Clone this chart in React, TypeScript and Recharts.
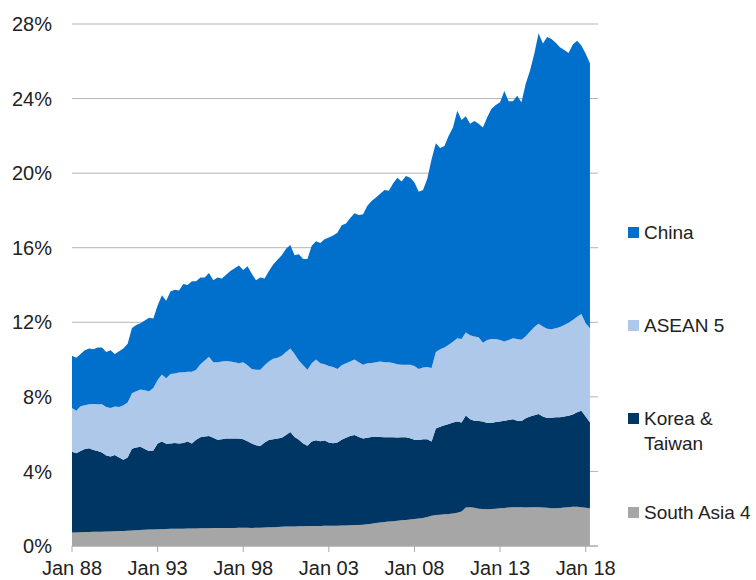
import React from 'react';
import { AreaChart, Area, XAxis, YAxis, CartesianGrid } from 'recharts';

// quarterly shares (% of total), Jan 88 .. Apr 18
const firstYear = 1988;

const southAsia4 = [
  0.73, 0.73, 0.74, 0.75, 0.75, 0.76, 0.76, 0.77, 0.78, 0.78, 0.79, 0.8,
  0.81, 0.82, 0.83, 0.85, 0.86, 0.87, 0.88, 0.89, 0.9, 0.9, 0.91, 0.92,
  0.92, 0.93, 0.93, 0.94, 0.94, 0.94, 0.95, 0.95, 0.95, 0.96, 0.96, 0.96,
  0.97, 0.97, 0.97, 0.98, 0.98, 0.98, 0.97, 0.98, 0.98, 0.99, 1.0, 1.01,
  1.02, 1.03, 1.04, 1.05, 1.05, 1.06, 1.06, 1.07, 1.07, 1.07, 1.07, 1.08,
  1.08, 1.09, 1.09, 1.1, 1.1, 1.11, 1.12, 1.13, 1.14, 1.17, 1.2, 1.23,
  1.26, 1.29, 1.31, 1.33, 1.35, 1.38, 1.4, 1.42, 1.45, 1.48, 1.5, 1.55,
  1.62, 1.66, 1.68, 1.7, 1.72, 1.75, 1.78, 1.85, 2.06, 2.08, 2.05, 2.0,
  1.98, 1.97, 1.98, 2.0, 2.02, 2.04, 2.06, 2.08, 2.08, 2.08, 2.07, 2.08,
  2.08, 2.08, 2.06, 2.05, 2.03, 2.02, 2.04, 2.06, 2.08, 2.1, 2.1, 2.08,
  2.05, 2.02,
];

const koreaTaiwan = [
  4.32, 4.25, 4.36, 4.45, 4.49, 4.39, 4.34, 4.25, 4.07, 4.02, 4.09, 3.95,
  3.81, 3.93, 4.39, 4.43, 4.47, 4.33, 4.22, 4.23, 4.6, 4.7, 4.57, 4.58,
  4.6, 4.57, 4.59, 4.66, 4.56, 4.76, 4.88, 4.92, 4.95, 4.84, 4.74, 4.76,
  4.8, 4.8, 4.79, 4.79, 4.74, 4.64, 4.53, 4.42, 4.39, 4.56, 4.68, 4.71,
  4.75, 4.77, 4.91, 5.07, 4.8, 4.64, 4.44, 4.31, 4.53, 4.6, 4.55, 4.58,
  4.47, 4.42, 4.46, 4.6, 4.7, 4.79, 4.83, 4.72, 4.63, 4.63, 4.65, 4.63,
  4.59, 4.55, 4.52, 4.5, 4.47, 4.45, 4.43, 4.36, 4.25, 4.2, 4.22, 4.17,
  3.98, 4.64, 4.72, 4.78, 4.83, 4.87, 4.9, 4.77, 4.94, 4.72, 4.67, 4.7,
  4.7, 4.63, 4.62, 4.65, 4.66, 4.68, 4.7, 4.72, 4.64, 4.62, 4.78, 4.87,
  4.94, 5.0, 4.89, 4.81, 4.85, 4.88, 4.86, 4.89, 4.9, 4.95, 5.08, 5.17,
  4.9, 4.6,
];

const asean5 = [
  2.35, 2.27, 2.4, 2.35, 2.36, 2.47, 2.5, 2.58, 2.6, 2.6, 2.6, 2.7,
  2.93, 2.95, 2.98, 3.02, 3.07, 3.15, 3.2, 3.35, 3.4, 3.6, 3.52, 3.72,
  3.73, 3.8, 3.8, 3.75, 3.85, 3.75, 3.92, 4.08, 4.25, 4.05, 4.15, 4.18,
  4.15, 4.13, 4.09, 4.03, 4.13, 4.08, 4.0, 4.05, 4.08, 4.15, 4.22, 4.33,
  4.33, 4.4, 4.45, 4.48, 4.45, 4.25, 4.2, 4.07, 4.2, 4.33, 4.18, 4.09,
  4.1, 4.09, 3.95, 4.0, 4.0, 4.0, 4.05, 4.0, 3.95, 4.0, 3.97, 3.99,
  4.05, 4.01, 4.02, 3.99, 3.93, 3.89, 3.89, 3.94, 3.95, 3.82, 3.86, 3.88,
  3.95, 4.1, 4.15, 4.17, 4.25, 4.33, 4.47, 4.48, 4.45, 4.5, 4.52, 4.5,
  4.22, 4.45, 4.5, 4.45, 4.37, 4.25, 4.29, 4.35, 4.38, 4.36, 4.4, 4.55,
  4.73, 4.84, 4.83, 4.79, 4.74, 4.78, 4.85, 4.9, 5.0, 5.07, 5.12, 5.2,
  5.0, 5.06,
];

const china = [
  2.8, 2.85, 2.8, 2.95, 3.0, 2.93, 3.05, 3.05, 2.95, 3.1, 2.82, 3.0,
  3.05, 3.15, 3.5, 3.55, 3.55, 3.75, 3.95, 3.73, 4.0, 4.25, 4.15, 4.43,
  4.5, 4.4, 4.73, 4.65, 4.85, 4.75, 4.65, 4.45, 4.5, 4.4, 4.55, 4.45,
  4.63, 4.85, 5.05, 5.25, 4.95, 5.3, 5.1, 4.8, 4.95, 4.65, 4.85, 5.05,
  5.25, 5.4, 5.55, 5.55, 5.3, 5.7, 5.7, 5.95, 6.3, 6.35, 6.45, 6.7,
  6.9, 7.05, 7.3, 7.5, 7.5, 7.7, 7.85, 7.9, 8.08, 8.45, 8.68, 8.85,
  9.0, 9.25, 9.2, 9.63, 10.0, 9.83, 10.13, 10.03, 9.85, 9.5, 9.52, 10.1,
  11.2, 11.2, 10.8, 10.8, 11.2, 11.5, 12.2, 11.75, 11.6, 11.35, 11.56, 11.45,
  11.55, 11.95, 12.35, 12.55, 12.75, 13.43, 12.8, 12.7, 13.05, 12.74, 13.55, 14.0,
  14.65, 15.58, 15.17, 15.65, 15.58, 15.32, 15.0, 14.75, 14.47, 14.78, 14.8, 14.4,
  14.45, 14.22,
];

const yearTicks = [1988, 1993, 1998, 2003, 2008, 2013, 2018];
const pctTicks = [0, 4, 8, 12, 16, 20, 24, 28];

const series = [
  { key: 'china', name: 'China', color: '#0070CC' },
  { key: 'asean', name: 'ASEAN 5', color: '#ADC8E9' },
  { key: 'korea', name: 'Korea & Taiwan', color: '#003663' },
  { key: 'southAsia', name: 'South Asia 4', color: '#A6A6A6' },
];

const data = china.map((_, i) => ({
  t: firstYear + i / 4,
  southAsia: southAsia4[i],
  korea: koreaTaiwan[i],
  asean: asean5[i],
  china: china[i],
}));

const font = '"Liberation Sans", Arial, Helvetica, sans-serif';
const textColor = '#222';

const legendTops = [220, 313, 406, 500];
const legendLabels: Record<string, string[]> = {
  china: ['China'],
  asean: ['ASEAN 5'],
  korea: ['Korea &', 'Taiwan'],
  southAsia: ['South Asia 4'],
};

const ChartLegend = () => (
  <div style={{ position: 'absolute', left: 628, top: 0, width: 128, height: 580 }}>
    {series.map((s, i) => (
      <div
        key={s.key}
        style={{
          position: 'absolute',
          left: 0,
          top: legendTops[i],
          display: 'flex',
          alignItems: 'flex-start',
          fontFamily: font,
          fontSize: 19,
          lineHeight: '25px',
          color: textColor,
        }}
      >
        <span
          style={{
            display: 'inline-block',
            width: 11,
            height: 11,
            marginTop: 7,
            marginRight: 5,
            background: s.color,
            flexShrink: 0,
          }}
        />
        <span>
          {legendLabels[s.key].map(line => (
            <div key={line} style={{ whiteSpace: 'nowrap' }}>{line}</div>
          ))}
        </span>
      </div>
    ))}
  </div>
);

export default function App() {
  const stackOrder = [...series].reverse();
  return (
    <div style={{ position: 'absolute', left: 0, top: 0, width: 756, height: 580, background: '#fff' }}>
      <AreaChart
        width={756}
        height={580}
        data={data}
        margin={{ top: 24, right: 158, left: 0, bottom: 4 }}
      >
        <CartesianGrid vertical={false} stroke="#b4b4b4" strokeWidth={1} />
        <XAxis
          dataKey="t"
          type="number"
          domain={[1988, 2018.72]}
          ticks={yearTicks}
          tickFormatter={(v: number) => `Jan ${String(v).slice(2)}`}
          height={30}
          stroke="#a9a9a9"
          tickSize={6}
          tickMargin={9}
          tick={{ fill: textColor, fontSize: 20, fontFamily: font }}
          interval={0}
        />
        <YAxis
          type="number"
          domain={[0, 28]}
          ticks={pctTicks}
          tickFormatter={(v: number) => `${v}%`}
          width={72}
          axisLine={false}
          tickLine={false}
          tickMargin={14}
          tick={{ fill: textColor, fontSize: 20, fontFamily: font }}
          interval={0}
        />
        {stackOrder.map(s => (
          <Area
            key={s.key}
            type="linear"
            dataKey={s.key}
            name={s.name}
            stackId="share"
            stroke="none"
            fill={s.color}
            fillOpacity={1}
            dot={false}
            activeDot={false}
            isAnimationActive={false}
          />
        ))}
      </AreaChart>
      <ChartLegend />
    </div>
  );
}
